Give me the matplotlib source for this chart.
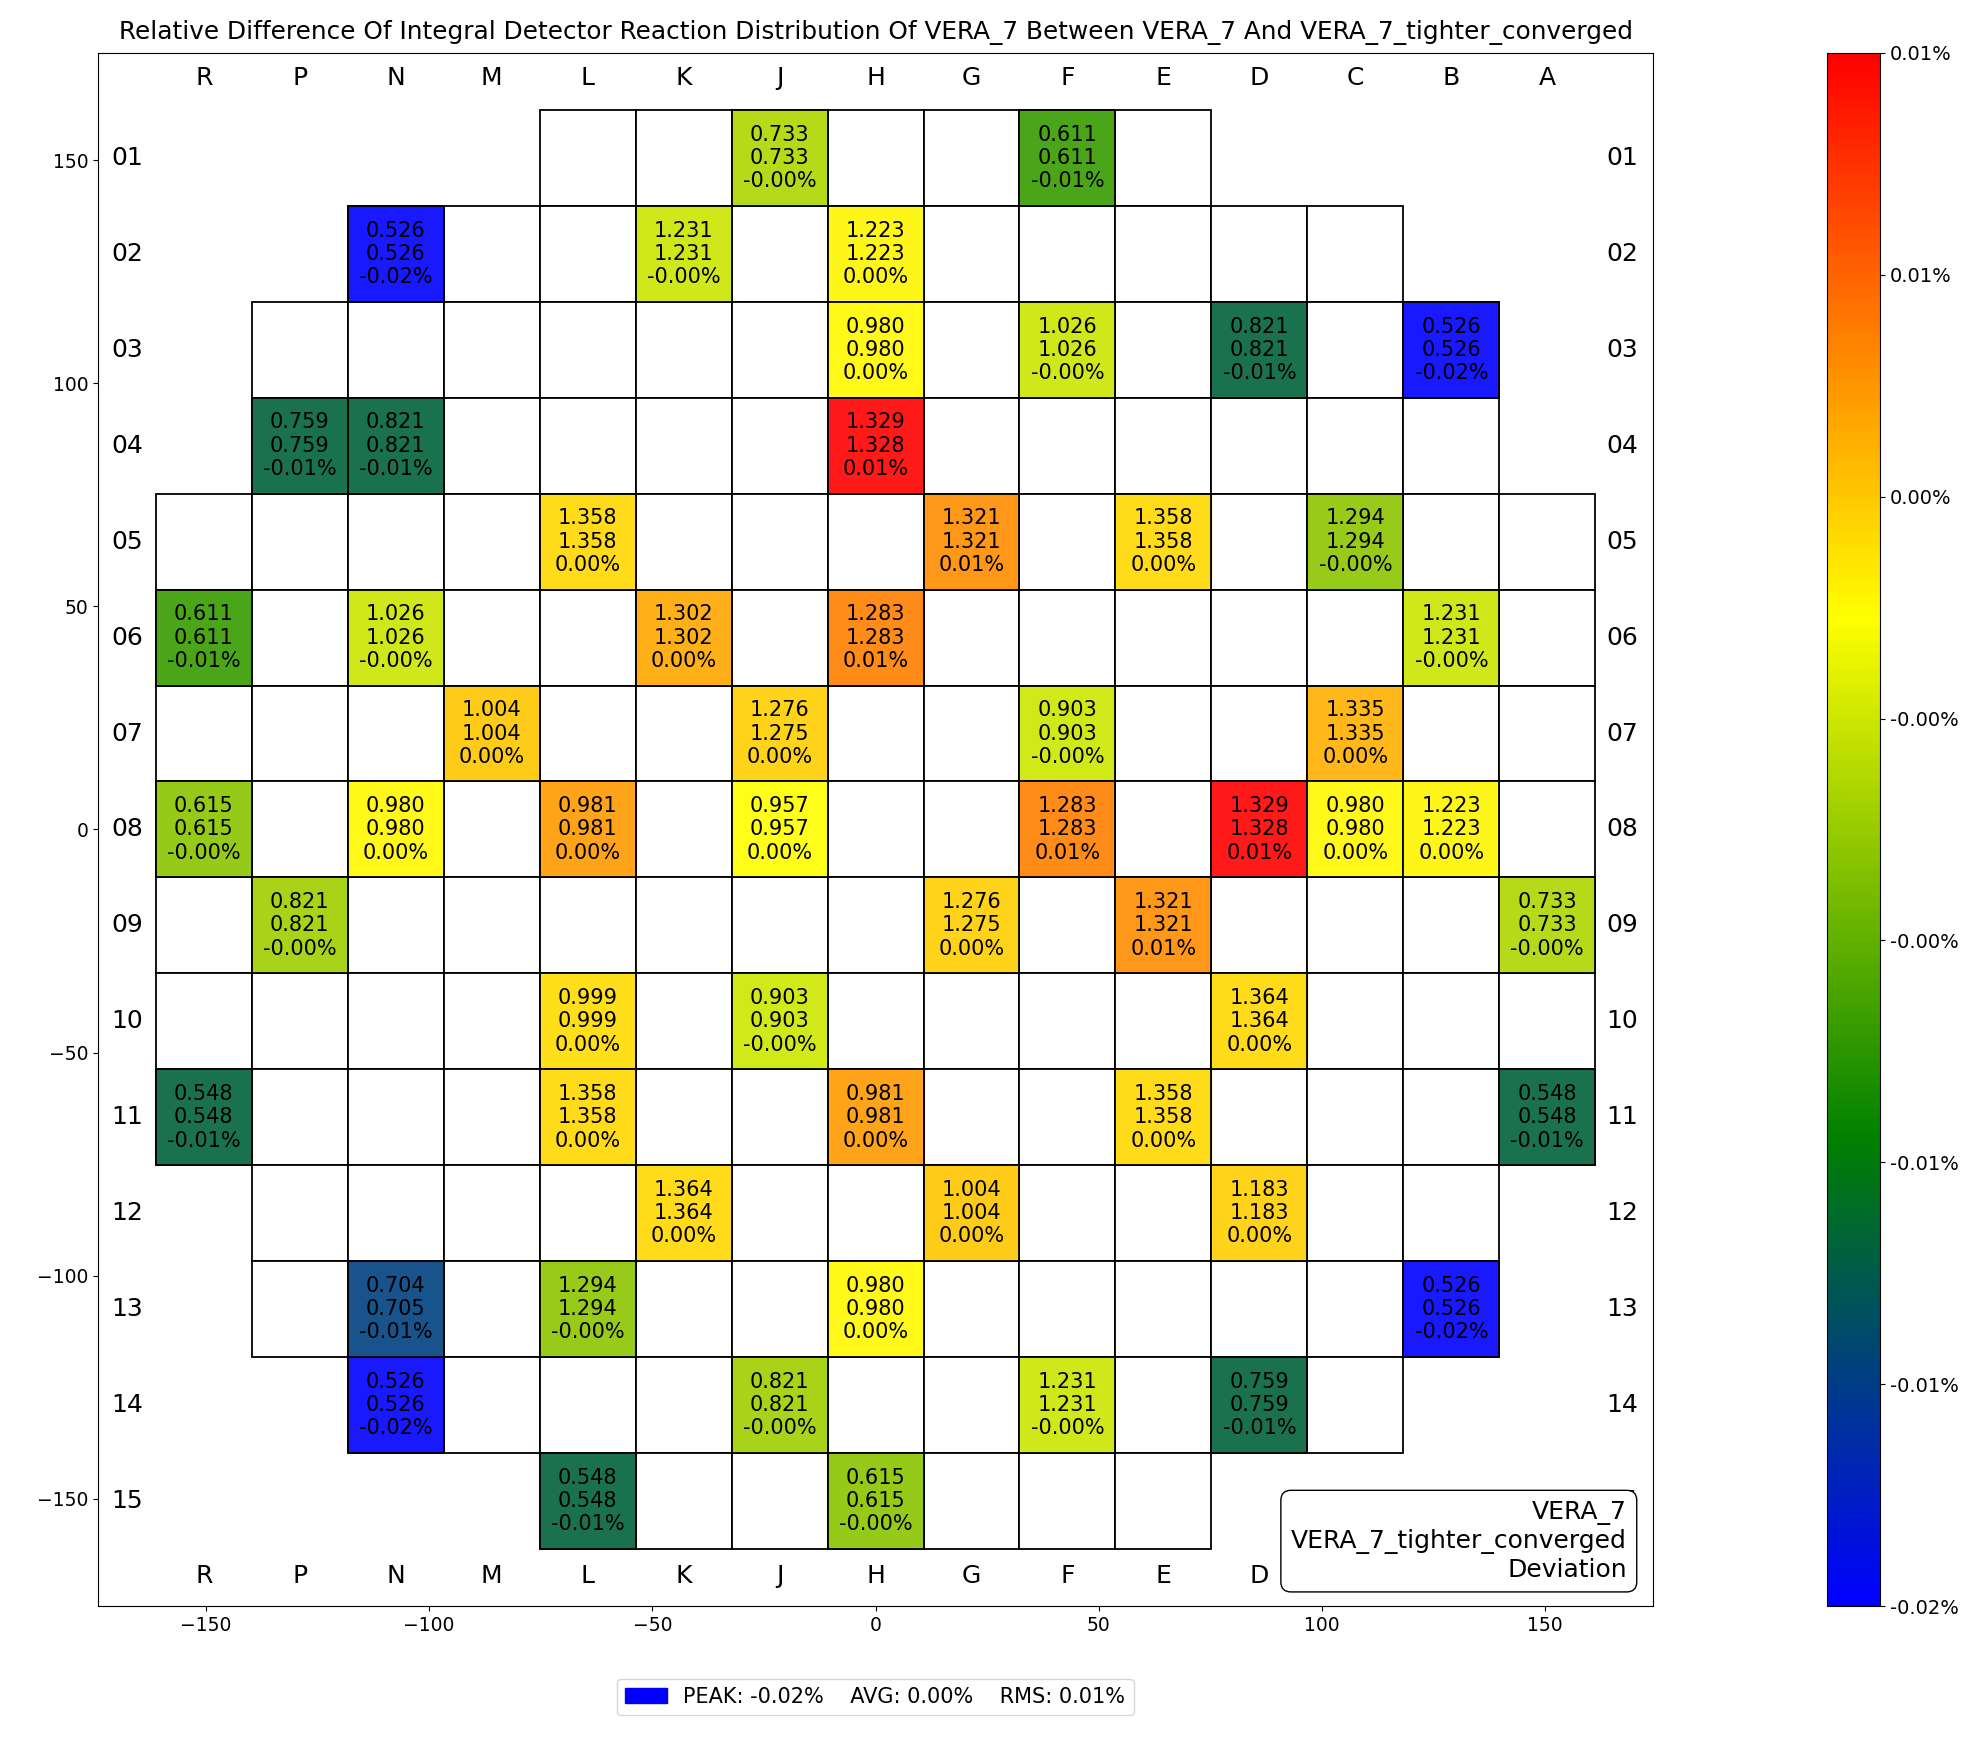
import numpy as np
import matplotlib
matplotlib.use('Agg')
import matplotlib.pyplot as plt
import matplotlib.patches as mpatches
from matplotlib.colors import LinearSegmentedColormap, Normalize
from matplotlib.cm import ScalarMappable

# core layout
col_labels = ['R', 'P', 'N', 'M', 'L', 'K', 'J', 'H', 'G', 'F', 'E', 'D', 'C', 'B', 'A']
row_labels = ['%02d' % k for k in range(1, 16)]
# first / last column index of each row
row_first = [4, 2, 1, 1, 0, 0, 0, 0, 0, 0, 0, 1, 1, 2, 4]
row_last = [10, 12, 13, 13, 14, 14, 14, 14, 14, 14, 14, 13, 13, 12, 10]

# detector locations and values
det_loc = ['J01', 'F01', 'N02', 'K02', 'H02', 'H03', 'F03', 'D03', 'B03', 'P04',
           'N04', 'H04', 'L05', 'G05', 'E05', 'C05', 'R06', 'N06', 'K06', 'H06',
           'B06', 'M07', 'J07', 'F07', 'C07', 'R08', 'N08', 'L08', 'J08', 'F08',
           'D08', 'C08', 'B08', 'P09', 'G09', 'E09', 'A09', 'L10', 'J10', 'D10',
           'R11', 'L11', 'H11', 'E11', 'A11', 'K12', 'G12', 'D12', 'N13', 'L13',
           'H13', 'B13', 'N14', 'J14', 'F14', 'D14', 'L15', 'H15']
ref_vals = [0.733, 0.611, 0.526, 1.231, 1.223, 0.980, 1.026, 0.821, 0.526, 0.759,
            0.821, 1.329, 1.358, 1.321, 1.358, 1.294, 0.611, 1.026, 1.302, 1.283,
            1.231, 1.004, 1.276, 0.903, 1.335, 0.615, 0.980, 0.981, 0.957, 1.283,
            1.329, 0.980, 1.223, 0.821, 1.276, 1.321, 0.733, 0.999, 0.903, 1.364,
            0.548, 1.358, 0.981, 1.358, 0.548, 1.364, 1.004, 1.183, 0.704, 1.294,
            0.980, 0.526, 0.526, 0.821, 1.231, 0.759, 0.548, 0.615]
test_vals = [0.733, 0.611, 0.526, 1.231, 1.223, 0.980, 1.026, 0.821, 0.526, 0.759,
             0.821, 1.328, 1.358, 1.321, 1.358, 1.294, 0.611, 1.026, 1.302, 1.283,
             1.231, 1.004, 1.275, 0.903, 1.335, 0.615, 0.980, 0.981, 0.957, 1.283,
             1.328, 0.980, 1.223, 0.821, 1.275, 1.321, 0.733, 0.999, 0.903, 1.364,
             0.548, 1.358, 0.981, 1.358, 0.548, 1.364, 1.004, 1.183, 0.705, 1.294,
             0.980, 0.526, 0.526, 0.821, 1.231, 0.759, 0.548, 0.615]
# relative difference in %
diff_vals = [-0.0017, -0.0058, -0.0155, -0.0007, 0.0014, 0.0013, -0.0007, -0.0095, -0.0155, -0.0095,
             -0.0095, 0.0105, 0.0025, 0.0053, 0.0025, -0.0029, -0.0058, -0.0007, 0.0043, 0.0058,
             -0.0007, 0.0031, 0.0028, -0.0006, 0.0039, -0.0030, 0.0013, 0.0048, 0.0010, 0.0058,
             0.0105, 0.0013, 0.0014, -0.0022, 0.0028, 0.0053, -0.0017, 0.0023, -0.0006, 0.0025,
             -0.0095, 0.0025, 0.0048, 0.0025, -0.0095, 0.0025, 0.0031, 0.0028, -0.0116, -0.0029,
             0.0013, -0.0155, -0.0155, -0.0022, -0.0007, -0.0095, -0.0095, -0.0030]

pitch = 21.5

cmap = LinearSegmentedColormap.from_list(
    'dev', [(0.0, 'blue'), (0.30, 'green'), (0.637, 'yellow'), (1.0, 'red')])
diffs = np.array(diff_vals)
vmin, vmax = diffs.min(), diffs.max()
norm = Normalize(vmin=vmin, vmax=vmax)

fig = plt.figure(figsize=(19.71, 17.47), dpi=100)
ax = fig.add_axes([0.0497, 0.0807, 0.789, 0.889])
cax = fig.add_axes([0.927, 0.0807, 0.0269, 0.889])

# empty core positions
for j in range(15):
    for i in range(row_first[j], row_last[j] + 1):
        x = (i - 7) * pitch
        y = (7 - j) * pitch
        ax.add_patch(mpatches.Rectangle((x - pitch / 2, y - pitch / 2), pitch, pitch,
                                        facecolor='white', edgecolor='black', linewidth=1.3))

# detector positions
for loc, r, t, d in zip(det_loc, ref_vals, test_vals, diff_vals):
    i = col_labels.index(loc[0])
    j = int(loc[1:]) - 1
    x = (i - 7) * pitch
    y = (7 - j) * pitch
    rgb = cmap(norm(d))[:3]
    ax.add_patch(mpatches.Rectangle((x - pitch / 2, y - pitch / 2), pitch, pitch,
                                    facecolor=(*rgb, 0.9), edgecolor='black', linewidth=1.3))
    ax.text(x, y, '%.3f\n%.3f\n%.2f%%' % (r, t, d), ha='center', va='center', fontsize=15)

# row / column labels
for i, c in enumerate(col_labels):
    x = (i - 7) * pitch
    ax.text(x, 168.3, c, ha='center', va='center', fontsize=18)
    ax.text(x, -167.3, c, ha='center', va='center', fontsize=18)
for j, r in enumerate(row_labels):
    y = (7 - j) * pitch
    ax.text(-167.6, y, r, ha='center', va='center', fontsize=18)
    ax.text(167.3, y, r, ha='center', va='center', fontsize=18)

ax.text(168.3, -168.6, 'VERA_7\nVERA_7_tighter_converged\nDeviation', ha='right', va='bottom',
        multialignment='right', fontsize=18,
        bbox=dict(boxstyle='round,pad=0.4', facecolor='white', edgecolor='black'))

ax.set_xlim(-174.2, 174.2)
ax.set_ylim(-174, 174)
ax.tick_params(labelsize=13.5)
ax.set_title('Relative Difference Of Integral Detector Reaction Distribution Of VERA_7 '
             'Between VERA_7 And VERA_7_tighter_converged', fontsize=17.8, pad=10)

sm = ScalarMappable(norm=norm, cmap=cmap)
cb = fig.colorbar(sm, cax=cax)
cticks = np.linspace(vmin, vmax, 8)
cb.set_ticks(cticks)
cb.ax.set_yticklabels(['%.2f%%' % v for v in cticks])
cb.ax.tick_params(labelsize=14)

peak = diffs[np.argmax(np.abs(diffs))]
avg = np.mean(np.abs(diffs))
rms = np.sqrt(np.mean(diffs ** 2))
handle = mpatches.Patch(color=cmap(norm(peak)))
fig.legend([handle], ['PEAK: %.2f%%    AVG: %.2f%%    RMS: %.2f%%' % (peak, avg, rms)],
           loc='center', bbox_to_anchor=(0.444, 0.0286), fontsize=15)

fig.savefig('out.png')
